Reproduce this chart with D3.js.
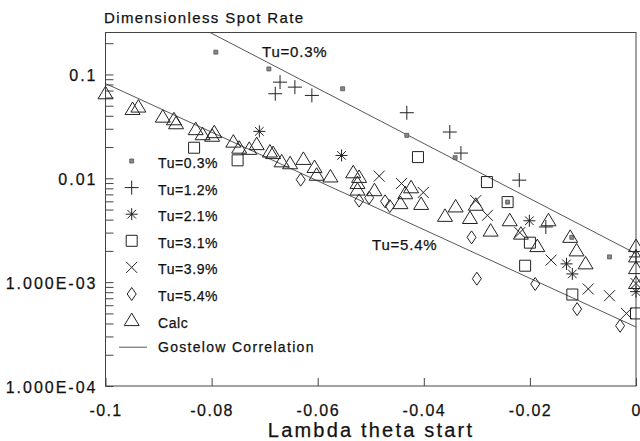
<!DOCTYPE html>
<html><head><meta charset="utf-8">
<script src="https://cdn.jsdelivr.net/npm/d3@7"></script>
<style>
html,body{margin:0;padding:0;background:#fff;}
svg{display:block;}
text{font-family:"Liberation Sans",Arial,Helvetica,sans-serif;fill:#111;stroke:#111;stroke-width:0.25px;}
</style></head>
<body>
<svg id="chart" width="640" height="441"></svg>
<script>
// ---- data (lambda theta start, dimensionless spot rate) ----
const tu03 = [[-0.0792,0.164],[-0.0692,0.113],[-0.0553,0.0728],[-0.0432,0.0259],[-0.0341,0.0158],[-0.0242,0.0059],[-0.0121,0.0027],[-0.0050,0.00175]];
const tu12 = [[-0.0671,0.0843],[-0.0680,0.0652],[-0.0643,0.0755],[-0.0611,0.0628],[-0.0432,0.0428],[-0.0351,0.0279],[-0.0330,0.0175],[-0.0220,0.0096],[-0.0170,0.0034],[0,0.00175]];
const tu21 = [[-0.0710,0.0283],[-0.0555,0.0166],[-0.0201,0.0039],[-0.0131,0.0015],[-0.0120,0.0012],[0,0.00081]];
const tu31 = [[-0.0833,0.0197],[-0.0751,0.0149],[-0.0411,0.0160],[-0.0281,0.0092],[-0.0242,0.0059],[-0.0200,0.0024],[-0.0209,0.00144],[-0.0120,0.00076],[0,0.0005]];
const tu39 = [[-0.0484,0.0105],[-0.0442,0.0089],[-0.0401,0.0073],[-0.0302,0.0061],[-0.0280,0.0044],[-0.0219,0.0030],[-0.0160,0.00163],[-0.0090,0.00086],[-0.0050,0.00074],[-0.0018,0.0005],[0,0.00097]];
const tu54 = [[-0.0632,0.0097],[-0.0522,0.0061],[-0.0503,0.0065],[-0.0473,0.0060],[-0.0464,0.0054],[-0.0310,0.0027],[-0.0300,0.00108],[-0.0190,0.00096],[-0.0111,0.00055],[-0.0030,0.00038]];
const calc = [[-0.1,0.0651],[-0.0949,0.046],[-0.0938,0.0485],[-0.0892,0.0388],[-0.0871,0.0366],[-0.0867,0.0335],[-0.0830,0.0294],[-0.0817,0.0263],[-0.0795,0.0275],[-0.0799,0.0254],[-0.0759,0.0223],[-0.0748,0.0195],[-0.0715,0.0211],[-0.0729,0.0190],[-0.0690,0.0179],[-0.0684,0.0173],[-0.0668,0.0144],[-0.0652,0.0138],[-0.0627,0.0152],[-0.0606,0.0127],[-0.0602,0.0107],[-0.0576,0.0103],[-0.0533,0.0113],[-0.0522,0.0102],[-0.0525,0.0089],[-0.0525,0.0077],[-0.0493,0.0076],[-0.0435,0.0071],[-0.0424,0.0081],[-0.0444,0.0057],[-0.0405,0.0056],[-0.0360,0.0043],[-0.0340,0.0053],[-0.0313,0.0041],[-0.0302,0.0055],[-0.0274,0.0031],[-0.0238,0.0039],[-0.0217,0.0029],[-0.0186,0.0022],[-0.0165,0.0039],[-0.0124,0.0027],[-0.0112,0.0020],[-0.0095,0.0015],[0,0.0022],[0,0.00175],[0,0.00135],[0,0.00097]];
// Gostelow correlation lines (end points)
const corrHigh = [[-0.0803,0.2535],[0,0.00188]];   // Tu=0.3%
const corrLow  = [[-0.1,0.0818],[0,0.00037]];      // Tu=5.4%
const seriesNames = ["Tu=0.3%","Tu=1.2%","Tu=2.1%","Tu=3.1%","Tu=3.9%","Tu=5.4%","Calc"];
const seriesKeys  = ["dot","plus","star","square","cross","diamond","triangle"];
const xTicks = [-0.1,-0.08,-0.06,-0.04,-0.02,0];
const xTickLabels = ["-0.1","-0.08","-0.06","-0.04","-0.02","0"];
const yMajor = [0.1,0.01,0.001,0.0001];
const yMajorLabels = ["0.1","0.01","1.000E-03","1.000E-04"];
const yMinorMult = [2,3,4,5,6,7,8,9];
const title = "Dimensionless Spot Rate";
const xTitle = "Lambda theta start";
const lineLabels = ["Tu=0.3%","Tu=5.4%"];
const legendLineLabel = "Gostelow Correlation";

// ---- layout ----
const L=105.5, R=636, T=32.5, B=386;
const svg = d3.select("#chart");
const x = d3.scaleLinear().domain([-0.1,0]).range([L,R]);
const y = d3.scaleLog().domain([1e-4,0.2535]).range([B,T]);
const ink = "#222";

// marker paths
const shapes = {
  dot: "M-2,-2h4v4h-4Z",
  plus: "M-7,0H7M0,-7V7",
  star: "M-6,0H6M0,-6V6M-4.3,-4.3L4.3,4.3M-4.3,4.3L4.3,-4.3",
  square: "M-5.5,-5.5h11v11h-11Z",
  cross: "M-5.5,-5.5L5.5,5.5M-5.5,5.5L5.5,-5.5",
  diamond: "M0,-6.5L4.5,0L0,6.5L-4.5,0Z",
  triangle: "M0,-7.5L7.5,5L-7.5,5Z"
};
function styleMarker(sel,key){
  sel.attr("d",shapes[key]).attr("fill", key==="dot" ? "#888" : "none")
     .attr("stroke", key==="dot" ? "#555" : ink).attr("stroke-width", key==="dot"?0.8:1);
}

// frame
svg.append("rect").attr("x",L).attr("y",T).attr("width",R-L).attr("height",B-T)
  .attr("fill","none").attr("stroke","#444").attr("stroke-width",1);

// y axis
const minors=[];
[1e-4,1e-3,1e-2,1e-1].forEach(d=>yMinorMult.forEach(m=>{const v=d*m; if(v<=0.25) minors.push(v);}));
const yAxis = d3.axisLeft(y).tickValues(yMajor.concat(minors)).tickSize(-8).tickPadding(8)
  .tickFormat(d=>{const i=yMajor.indexOf(d); return i>=0?yMajorLabels[i]:"";});
const gy = svg.append("g").attr("transform",`translate(${L},0)`).call(yAxis);
gy.select(".domain").remove();
gy.selectAll(".tick line").attr("stroke","#444");
gy.selectAll(".tick text").attr("font-size",16).attr("fill","#111").attr("dy","0.38em").style("letter-spacing","2px");

// x axis
const xAxis = d3.axisBottom(x).tickValues(xTicks).tickSize(-8).tickPadding(8)
  .tickFormat((d,i)=>xTickLabels[i]);
const gx = svg.append("g").attr("transform",`translate(0,${B})`).call(xAxis);
gx.select(".domain").remove();
gx.selectAll(".tick line").attr("stroke","#444");
gx.selectAll(".tick text").attr("font-size",16).attr("fill","#111").attr("y",30).attr("dy",0).style("letter-spacing","1.4px");
// last label ("0") sits against the right edge of the picture
gx.selectAll(".tick text").filter(d=>d===0).attr("text-anchor","end").attr("x",4).style("letter-spacing","0px");

// titles
svg.append("text").attr("x",104).attr("y",23).attr("font-size",15).style("letter-spacing","1.4px").text(title);
svg.append("text").attr("x",371).attr("y",437).attr("text-anchor","middle").attr("font-size",20).style("letter-spacing","2.2px").text(xTitle);

// correlation lines
const line = d3.line().x(d=>x(d[0])).y(d=>y(d[1]));
[corrHigh,corrLow].forEach(c=>svg.append("path").attr("d",line(c)).attr("fill","none").attr("stroke","#444").attr("stroke-width",0.9));
svg.append("text").attr("x",262).attr("y",57).attr("font-size",15).style("letter-spacing","0.8px").text(lineLabels[0]);
svg.append("text").attr("x",372).attr("y",250).attr("font-size",15).style("letter-spacing","0.8px").text(lineLabels[1]);

// points
const allSeries=[tu03,tu12,tu21,tu31,tu39,tu54,calc];
allSeries.forEach((s,i)=>{
  svg.append("g").selectAll("path").data(s).join("path")
    .attr("transform",d=>`translate(${x(d[0])},${y(d[1])})`)
    .call(styleMarker,seriesKeys[i]);
});

// legend
const lg = svg.append("g");
seriesNames.forEach((n,i)=>{
  const yy = 163 + i*26.6;
  lg.append("path").attr("transform",`translate(131.7,${yy-2})`).call(styleMarker,seriesKeys[i]);
  lg.append("text").attr("x",158).attr("y",yy+5).attr("font-size",14).style("letter-spacing","0.6px").text(n);
});
const ly = 163 + 7*26.6 - 2;
lg.append("line").attr("x1",119).attr("x2",147).attr("y1",ly).attr("y2",ly).attr("stroke","#444").attr("stroke-width",0.9);
lg.append("text").attr("x",158).attr("y",ly+5).attr("font-size",14).style("letter-spacing","1.3px").text(legendLineLabel);
</script>
</body></html>
